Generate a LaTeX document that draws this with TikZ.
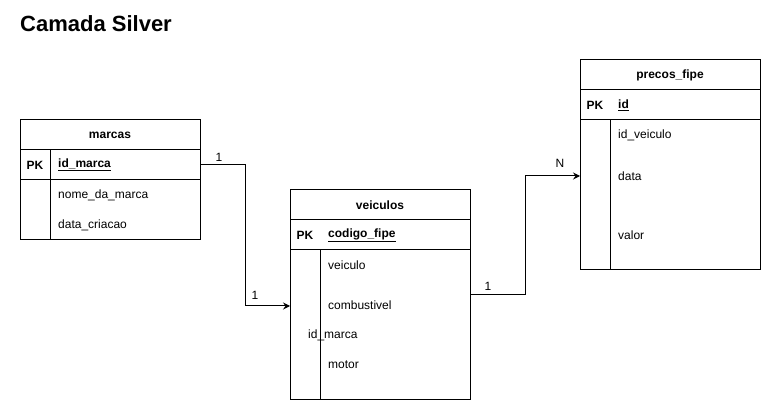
\documentclass[tikz,border=0pt]{standalone}
\usepackage{fontspec}
\setmainfont{Liberation Sans}
\usetikzlibrary{arrows.meta}
\tikzset{
  cellbox/.style={draw=black, line width=1pt, inner sep=0pt, minimum width=180pt},
  fld/.style={anchor=west, inner sep=0pt, font=\fontsize{12}{14}\selectfont},
  lbl/.style={inner sep=0pt, font=\fontsize{12}{14}\selectfont},
  hdr/.style={cellbox, minimum height=30pt, font=\fontsize{12}{14}\selectfont\bfseries},
  conn/.style={draw=black, line width=1pt},
  arr/.style={conn, -{Stealth[length=7pt,width=7pt,inset=2.5pt]}}
}
\begin{document}
\begin{tikzpicture}[x=1pt,y=-1pt]
\useasboundingbox (0,0) rectangle (771,411);
\fill[white] (0,0) rectangle (771,411);

% title
\node[anchor=west, inner sep=0pt, font=\fontsize{22}{26}\selectfont\bfseries] (title) at (20,23.5) {Camada Silver};

% marcas
\node[hdr] (mH) at (110,135) {marcas};
\node[cellbox, minimum height=30pt] (mPK) at (110,165) {};
\node[cellbox, minimum height=60pt] (mB) at (110,210) {};
\draw[conn] (50,150) -- (50,240);
\node[lbl, font=\fontsize{12}{14}\selectfont\bfseries] (mPKt) at (35,165) {PK};
\node[fld, font=\fontsize{12}{14}\selectfont\bfseries] (mf1) at (58,165) {\underline{id\_marca}};
\node[fld] (mf2) at (58,195) {nome\_da\_marca};
\node[fld] (mf3) at (58,225) {data\_criacao};

% veiculos
\node[hdr] (vH) at (380,205) {veiculos};
\node[cellbox, minimum height=30pt] (vPK) at (380,235) {};
\node[cellbox, minimum height=150pt] (vB) at (380,325) {};
\draw[conn] (320,250) -- (320,400);
\node[lbl, font=\fontsize{12}{14}\selectfont\bfseries] (vPKt) at (305,235) {PK};
\node[fld, font=\fontsize{12}{14}\selectfont\bfseries] (vf1) at (328,235) {\underline{codigo\_fipe}};
\node[fld] (vf2) at (328,265) {veiculo};
\node[fld] (vf3) at (328,305) {combustivel};
\node[fld] (vf4) at (308,335) {id\_marca};
\node[fld] (vf5) at (328,365) {motor};

% precos_fipe
\node[hdr] (pH) at (670,75) {precos\_fipe};
\node[cellbox, minimum height=30pt] (pPK) at (670,105) {};
\node[cellbox, minimum height=150pt] (pB) at (670,195) {};
\draw[conn] (610,120) -- (610,270);
\node[lbl, font=\fontsize{12}{14}\selectfont\bfseries] (pPKt) at (595,105) {PK};
\node[fld, font=\fontsize{12}{14}\selectfont\bfseries] (pf1) at (618,105) {\underline{id}};
\node[fld] (pf2) at (618,135) {id\_veiculo};
\node[fld] (pf3) at (618,176) {data};
\node[fld] (pf4) at (618,235) {valor};

% connectors
\coordinate (vin) at (290,306);
\coordinate (vout) at (470,295);
\coordinate (pin) at (580,176);
\draw[arr] (mPK.east) -- ++(45,0) |- (vin);
\draw[arr] (vout) -- ++(55,0) |- (pin);

\node[lbl] (l1) at (219,157) {1};
\node[lbl] (l2) at (255,295) {1};
\node[lbl] (l3) at (488,286) {1};
\node[lbl] (l4) at (560,163) {N};
\end{tikzpicture}
\end{document}
